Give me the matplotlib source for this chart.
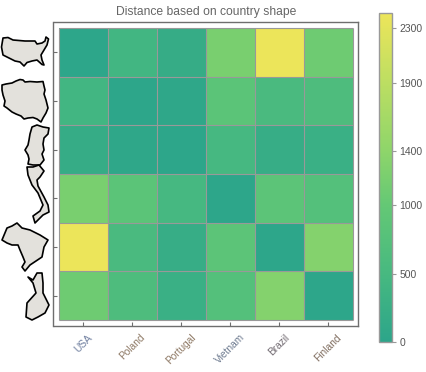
import matplotlib
matplotlib.use('Agg')
import matplotlib.pyplot as plt
from matplotlib.colors import LinearSegmentedColormap
from matplotlib.patches import Polygon
import numpy as np

plt.rcParams['font.family'] = ['Liberation Sans', 'DejaVu Sans']

countries = ['USA', 'Poland', 'Portugal', 'Vietnam', 'Brazil', 'Finland']
label_colors = ['#6f7f9f', '#8f7a66', '#8f7a66', '#6d7a8f', '#736c73', '#7f6c5e']

distance = [
    [20, 420, 180, 1200, 2400, 1100],
    [420, 20, 60, 850, 550, 620],
    [180, 60, 20, 480, 200, 270],
    [1200, 850, 480, 20, 870, 720],
    [2400, 550, 200, 870, 20, 1300],
    [1100, 620, 270, 720, 1300, 20],
]
cbar_ticks = [0, 500, 1000, 1400, 1900, 2300]
vmax = 2410

# outlines traced in image pixels
usa = [(3, 38), (8, 37.5), (13, 40), (25, 41), (35, 41), (37, 44), (42, 43), (45, 41), (46, 37), (48.5, 39),
       (47, 45), (44, 50), (41, 55), (42, 60), (44, 65), (42, 64.5), (37, 60), (32, 61), (27, 62.5), (24, 66),
       (20, 62), (15, 61), (9, 58), (3, 55), (1.5, 47)]
poland = [(12, 83), (16, 81), (20, 79.5), (23, 80), (25, 82), (30, 81.5), (37, 82), (43, 81.5), (44, 86), (45, 90),
          (44, 94), (46, 100), (48, 108), (46, 113), (43, 118), (41, 122), (37, 119), (33, 117.5), (28, 118),
          (24, 119), (21, 116), (16, 114), (12, 112), (7, 108), (4, 106), (5, 101), (3, 95), (2, 90), (2, 85), (6, 84)]
portugal = [(32, 127), (37, 125), (43, 127), (49, 128), (48, 134), (44, 138), (43, 144), (44, 150), (42, 154),
            (44, 160), (40, 165), (33, 165), (28, 164), (29, 159), (28, 155), (25, 150), (28, 145), (29, 140), (30, 134)]
vietnam = [(27, 167), (33, 167), (39, 165), (44, 171), (40, 177), (37, 180), (38, 186), (44, 197), (48, 205),
           (49, 212), (43, 215), (35, 223), (33, 216), (40, 211), (43, 205), (38, 193), (32, 185), (28, 175)]
brazil = [(2, 240), (7, 228), (12, 226), (17, 223), (22, 228), (30, 230), (40, 235), (48, 240), (44, 247), (43, 252),
          (42, 257), (36, 261), (30, 265), (25, 271), (22, 267), (25, 262), (23, 257), (20, 250), (18, 245), (12, 245), (7, 243)]
finland = [(28, 277), (33, 280), (37, 273), (42, 273), (43, 283), (43, 293), (46, 299), (49, 305), (45, 313), (38, 317),
           (32, 320), (26, 317), (27, 303), (36, 293), (33, 283)]
shapes = [usa, poland, portugal, vietnam, brazil, finland]

W, H = 427, 372
frame = '#6e6e6e'
cmap = LinearSegmentedColormap.from_list('shape', [
    (0, '#2ca58a'), (500 / vmax, '#47b980'), (1000 / vmax, '#64c875'),
    (1400 / vmax, '#8ed56a'), (1900 / vmax, '#bcde62'), (1, '#ede55a')])


def box(left, top, right, bottom):
    return [left / W, 1 - bottom / H, (right - left) / W, (bottom - top) / H]


fig = plt.figure(figsize=(W / 100, H / 100), dpi=100)
ax = fig.add_axes(box(53.5, 22, 358, 326))
mesh = ax.pcolormesh(np.array(distance), cmap=cmap, vmin=0, vmax=vmax)
# cell borders as a thin grid on top, pcolormesh edges come out too heavy
ax.hlines(np.arange(7), 0, 6, color='#999999', linewidth=0.8, zorder=3)
ax.vlines(np.arange(7), 0, 6, color='#999999', linewidth=0.8, zorder=3)
ax.set_xlim(-0.11, 6.11)
ax.set_ylim(6.12, -0.12)
ax.set_xticks(np.arange(6) + 0.5)
ax.set_yticks(np.arange(6) + 0.5)
ax.set_xticklabels(countries, rotation=45, ha='center', va='top', fontsize=7.3)
ax.set_yticklabels([])
for lab, c in zip(ax.get_xticklabels(), label_colors):
    lab.set_color(c)
ax.tick_params(direction='in', length=3, width=0.8, color=frame, pad=4.5)
for s in ax.spines.values():
    s.set_color(frame)
    s.set_linewidth(1.0)
ax.set_title('Distance based on country shape', fontsize=8.7, color='#666666', pad=5)

cax = fig.add_axes(box(379, 13, 392.5, 342))
cb = fig.colorbar(mesh, cax=cax)
cb.set_ticks(cbar_ticks)
cb.ax.tick_params(length=3, width=0.8, color='#999999', labelcolor='#555555', labelsize=7.5, pad=2)
cb.outline.set_edgecolor('#999999')
cb.outline.set_linewidth(1.0)

# country outlines sit on a full size overlay in pixel coordinates
over = fig.add_axes([0, 0, 1, 1])
over.set_xlim(0, W)
over.set_ylim(H, 0)
over.axis('off')
for s in shapes:
    over.add_patch(Polygon(s, closed=True, facecolor='#e3e1dc', edgecolor='black', linewidth=1.2, joinstyle='round'))

fig.savefig('out.png', dpi=100)
